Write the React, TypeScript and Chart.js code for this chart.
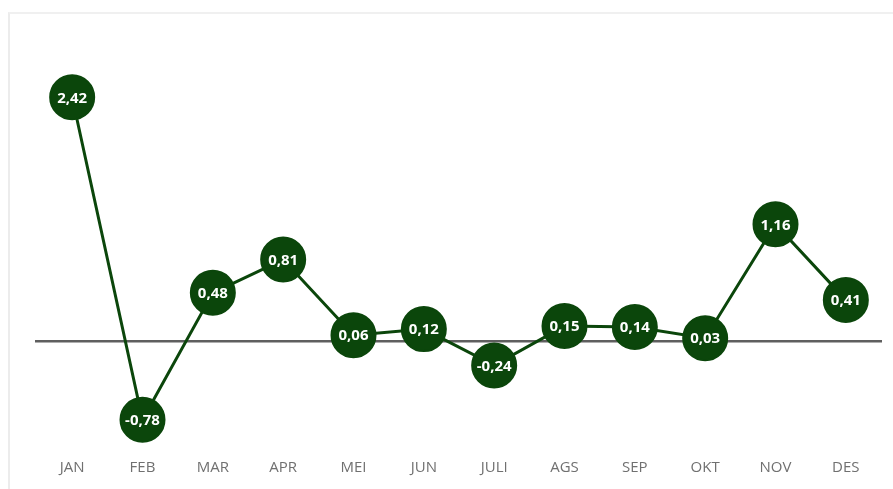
import React, { useEffect, useRef } from "react";
import { Chart, registerables } from "chart.js";

Chart.register(...registerables);

const months = ["JAN", "FEB", "MAR", "APR", "MEI", "JUN", "JULI", "AGS", "SEP", "OKT", "NOV", "DES"];
const inflation = [2.42, -0.78, 0.48, 0.81, 0.06, 0.12, -0.24, 0.15, 0.14, 0.03, 1.16, 0.41];
const valueLabels = ["2,42", "-0,78", "0,48", "0,81", "0,06", "0,12", "-0,24", "0,15", "0,14", "0,03", "1,16", "0,41"];

const GREEN = "#0b460b";

const zeroLinePlugin = {
  id: "zeroLine",
  beforeDatasetsDraw(chart: any) {
    const { ctx, chartArea, scales } = chart;
    const y = scales.y.getPixelForValue(0);
    ctx.save();
    ctx.strokeStyle = "#5f5f5f";
    ctx.lineWidth = 2.5;
    ctx.beginPath();
    ctx.moveTo(chartArea.left - 2, y);
    ctx.lineTo(chartArea.right + 1, y);
    ctx.stroke();
    ctx.restore();
  },
};

const labelPlugin = {
  id: "valueLabels",
  afterDatasetsDraw(chart: any) {
    const { ctx } = chart;
    const meta = chart.getDatasetMeta(0);
    ctx.save();
    ctx.fillStyle = "#ffffff";
    ctx.font = "bold 15px 'Open Sans', sans-serif";
    ctx.textAlign = "center";
    ctx.textBaseline = "middle";
    meta.data.forEach((pt: any, i: number) => {
      ctx.fillText(valueLabels[i], pt.x, pt.y + 1);
    });
    ctx.restore();
  },
};

export default function App() {
  const ref = useRef<HTMLCanvasElement>(null);
  useEffect(() => {
    if (!ref.current) return;
    const chart = new Chart(ref.current, {
      type: "line",
      data: {
        labels: months,
        datasets: [
          {
            data: inflation,
            borderColor: GREEN,
            borderWidth: 3,
            backgroundColor: GREEN,
            pointRadius: 22,
            pointBorderWidth: 2,
            pointBorderColor: GREEN,
            pointBackgroundColor: GREEN,
            tension: 0,
            clip: false as any,
          },
        ],
      },
      options: {
        animation: false,
        responsive: false,
        layout: { autoPadding: false, padding: { left: 37, right: 12, top: 59, bottom: -5 } },
        plugins: { legend: { display: false }, tooltip: { enabled: false } },
        scales: {
          x: {
            offset: true,
            grid: { display: false, drawTicks: false },
            border: { display: false },
            ticks: {
              padding: 17,
              color: "#707070",
              font: { size: 15, family: "'Open Sans', sans-serif" },
            },
          },
          y: {
            display: false,
            min: -1,
            max: 2.8,
          },
        },
      },
      plugins: [zeroLinePlugin, labelPlugin],
    });
    return () => chart.destroy();
  }, []);
  return (
    <div style={{ position: "absolute", left: 0, top: 0, width: 893, height: 489, background: "#fff", overflow: "hidden" }}>
      <div
        style={{
          position: "absolute",
          left: 8,
          top: 12,
          width: 900,
          height: 500,
          borderTop: "2px solid #f0f0f0",
          borderLeft: "2px solid #ececec",
        }}
      />
      <canvas ref={ref} width={893} height={489} style={{ position: "absolute", left: 0, top: 0 }} />
    </div>
  );
}
